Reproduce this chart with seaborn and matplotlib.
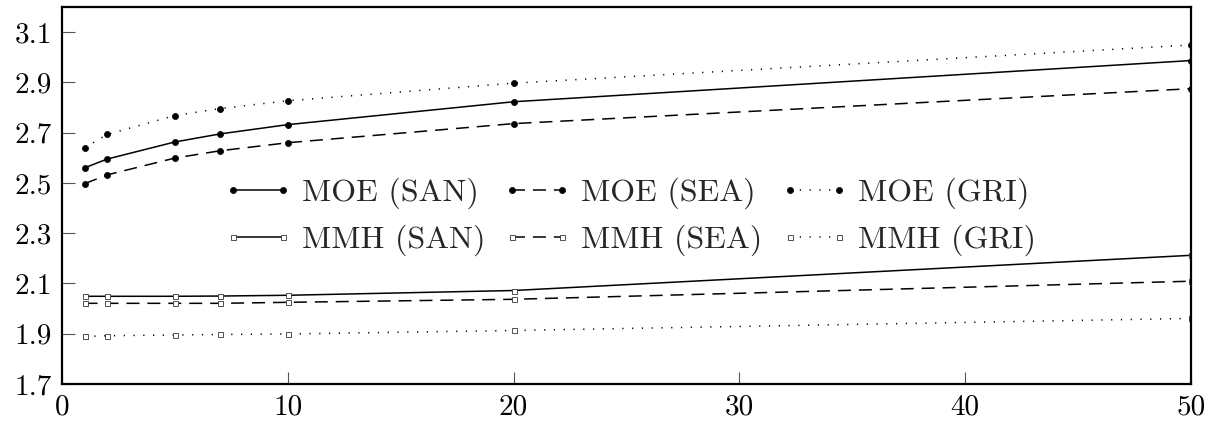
import numpy as np
import pandas as pd
import seaborn as sns
import matplotlib
matplotlib.use('Agg')
import matplotlib.pyplot as plt

sns.set_style('ticks')
plt.rcParams['font.family'] = ['cmr10', 'DejaVu Serif']
plt.rcParams['mathtext.fontset'] = 'cm'
plt.rcParams['axes.formatter.use_mathtext'] = True

# values
x_vals = [1, 2, 5, 7, 10, 20, 50]
moe_san = [2.56, 2.595, 2.663, 2.695, 2.732, 2.823, 2.987]
moe_sea = [2.497, 2.532, 2.599, 2.628, 2.66, 2.736, 2.875]
moe_gri = [2.64, 2.693, 2.768, 2.796, 2.827, 2.897, 3.049]
mmh_san = [2.049, 2.049, 2.049, 2.05, 2.053, 2.072, 2.212]
mmh_sea = [2.021, 2.021, 2.021, 2.021, 2.025, 2.037, 2.109]
mmh_gri = [1.889, 1.892, 1.895, 1.897, 1.899, 1.913, 1.961]

x_ticks = [0, 10, 20, 30, 40, 50]
y_ticks = [1.7, 1.9, 2.1, 2.3, 2.5, 2.7, 2.9, 3.1]

series = {
    'MOE (SAN)': moe_san,
    'MMH (SAN)': mmh_san,
    'MOE (SEA)': moe_sea,
    'MMH (SEA)': mmh_sea,
    'MOE (GRI)': moe_gri,
    'MMH (GRI)': mmh_gri,
}

rows = []
for name, vals in series.items():
    for xv, yv in zip(x_vals, vals):
        rows.append({'x': xv, 'y': yv, 'series': name})
df = pd.DataFrame(rows)

solid = '-'
dashed = (0, (8.5, 5.2))
dotted = (0, (0.8, 5.6))
styles = {'SAN': solid, 'SEA': dashed, 'GRI': dotted}

fig = plt.figure(figsize=(12.09, 4.26), dpi=100)
ax = fig.add_axes([62 / 1209, 1 - 384 / 426, (1191 - 62) / 1209, (384 - 7) / 426])

for name in series:
    sub = df[df['series'] == name]
    ls = styles[name.split('(')[1][:3]]
    if name.startswith('MOE'):
        mk = dict(marker='o', markersize=4.4, markerfacecolor='black',
                  markeredgecolor='black', markeredgewidth=0.5)
    else:
        mk = dict(marker='s', markersize=3.6, markerfacecolor='white',
                  markeredgecolor='#333333', markeredgewidth=0.6)
    sns.lineplot(data=sub, x='x', y='y', ax=ax, color='black', linewidth=1.1,
                 linestyle=ls, label=name, **mk)

ax.set_xlim(0, 50)
ax.set_ylim(1.7, 3.2)
ax.set_xticks(x_ticks)
ax.set_yticks(y_ticks)
ax.set_xticklabels([str(t) for t in x_ticks])
ax.set_yticklabels(['%.1f' % t for t in y_ticks])
ax.set_xlabel('')
ax.set_ylabel('')
ax.tick_params(direction='in', length=9, width=0.8, color='#555555',
               labelsize=21, labelcolor='black', pad=7)
for sp in ax.spines.values():
    sp.set_linewidth(1.6)
    sp.set_color('black')
    sp.set_visible(True)

ax.legend(loc='center', bbox_to_anchor=(0.503, 0.443), ncol=3, frameon=False,
          numpoints=2, fontsize=23, handlelength=2.15, handletextpad=0.3,
          columnspacing=0.55, labelspacing=0.5, borderpad=0)

fig.savefig('out.png', dpi=100)
